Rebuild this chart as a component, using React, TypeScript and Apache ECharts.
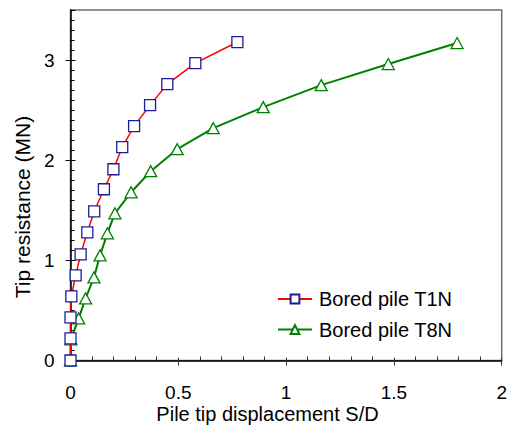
import React, { useEffect, useRef } from "react";
import * as echarts from "echarts";

const t1nX = [0, 0, 0, 0.004, 0.024, 0.047, 0.078, 0.11, 0.155, 0.199, 0.24, 0.295, 0.369, 0.449, 0.579, 0.774];
const t1nY = [0, 0.22, 0.43, 0.64, 0.85, 1.06, 1.28, 1.49, 1.71, 1.91, 2.13, 2.34, 2.55, 2.76, 2.97, 3.18];
const t8nX = [0, 0.002, 0.038, 0.07, 0.109, 0.137, 0.171, 0.206, 0.281, 0.372, 0.495, 0.662, 0.894, 1.163, 1.474, 1.793];
const t8nY = [0, 0.21, 0.42, 0.62, 0.83, 1.05, 1.27, 1.47, 1.68, 1.89, 2.11, 2.32, 2.53, 2.75, 2.96, 3.17];
const seriesNames = ["Bored pile T1N", "Bored pile T8N"];
const xTitle = "Pile tip displacement S/D";
const yTitle = "Tip resistance (MN)";

const FONT = "Liberation Sans, Arial, sans-serif";

export default function App() {
  const ref = useRef<HTMLDivElement>(null);
  useEffect(() => {
    const chart = echarts.init(ref.current!, null, { renderer: "svg" });
    const xBase = { type: "value", min: 0, max: 2, interval: 0.5, splitLine: { show: false }, gridIndex: 0 };
    const yBase = { type: "value", min: 0, max: 3.5, interval: 1, splitLine: { show: false }, gridIndex: 0 };
    chart.setOption({
      animation: false,
      backgroundColor: "#fff",
      grid: {
        left: 70.5,
        right: 8.3,
        top: 10,
        bottom: 67.5,
        show: true,
        borderColor: "#6e6e6e",
        borderWidth: 1.5,
        backgroundColor: "transparent",
      },
      xAxis: [
        {
          ...xBase,
          position: "bottom",
          axisLine: { show: true, onZero: false, lineStyle: { color: "#000", width: 1.5 } },
          axisTick: { show: true, inside: false, length: 5, lineStyle: { color: "#333", width: 1 } },
          minorTick: { show: false },
          axisLabel: {
            show: true,
            margin: 22,
            color: "#000",
            fontSize: 19,
            fontFamily: FONT,
            formatter: (v: number) => String(v),
          },
        },
        {
          ...xBase,
          position: "bottom",
          axisLine: { show: false, onZero: false },
          axisTick: { show: true, inside: true, length: 3, lineStyle: { color: "#333", width: 1 } },
          minorTick: { show: true, splitNumber: 5, length: 4, lineStyle: { color: "#333", width: 1 } },
          axisLabel: { show: false },
        },
      ],
      yAxis: [
        {
          ...yBase,
          position: "left",
          axisLine: { show: true, onZero: false, lineStyle: { color: "#000", width: 1.5 } },
          axisTick: { show: true, inside: false, length: 5, lineStyle: { color: "#000", width: 1 } },
          minorTick: { show: false },
          axisLabel: {
            show: true,
            showMaxLabel: false,
            margin: 16,
            color: "#000",
            fontSize: 19,
            fontFamily: FONT,
            formatter: (v: number) => (Number.isInteger(v) ? String(v) : ""),
          },
        },
        {
          ...yBase,
          position: "left",
          axisLine: { show: false, onZero: false },
          axisTick: { show: true, inside: true, length: 5, lineStyle: { color: "#000", width: 1 } },
          minorTick: { show: true, splitNumber: 10, length: 4, lineStyle: { color: "#000", width: 1 } },
          axisLabel: { show: false },
        },
      ],
      legend: {
        orient: "vertical",
        left: 277,
        top: 289,
        padding: 0,
        itemWidth: 34,
        itemHeight: 11,
        itemGap: 10.5,
        data: seriesNames,
        textStyle: { fontSize: 20, fontFamily: FONT, color: "#000", lineHeight: 20, padding: [0, 0, 0, 2] },
      },
      graphic: [
        {
          type: "text",
          x: 267.5,
          y: 413.5,
          style: { text: xTitle, font: `20px ${FONT}`, fill: "#000", align: "center", verticalAlign: "middle" },
        },
        {
          type: "text",
          x: 22.5,
          y: 207,
          rotation: Math.PI / 2,
          style: { text: yTitle, font: `21px ${FONT}`, fill: "#000", align: "center", verticalAlign: "middle" },
        },
      ],
      series: [
        {
          name: seriesNames[0],
          type: "line",
          xAxisIndex: 0,
          yAxisIndex: 0,
          data: t1nX.map((x, i) => [x, t1nY[i]]),
          symbol: "rect",
          symbolSize: 11,
          showAllSymbol: true,
          lineStyle: { color: "#ff0000", width: 1.5 },
          itemStyle: { color: "#ffffff", borderColor: "#1c1c9c", borderWidth: 1.3 },
          z: 3,
        },
        {
          name: seriesNames[1],
          type: "line",
          xAxisIndex: 0,
          yAxisIndex: 0,
          data: t8nX.map((x, i) => [x, t8nY[i]]),
          symbol: "triangle",
          symbolSize: [12, 11],
          showAllSymbol: true,
          lineStyle: { color: "#008000", width: 2 },
          itemStyle: { color: "#ffffff", borderColor: "#008000", borderWidth: 1.3 },
          z: 2,
        },
      ],
    });
    return () => chart.dispose();
  }, []);
  return <div ref={ref} style={{ position: "fixed", left: 0, top: 0, width: 510, height: 428 }} />;
}
